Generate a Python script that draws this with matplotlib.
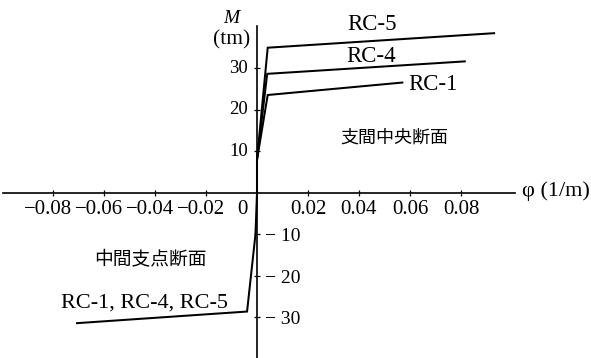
import matplotlib
matplotlib.use("Agg")
import matplotlib.pyplot as plt

# Moment–curvature relations (phi in 1/m, M in tm)
phi_rc1 = [0.0, 0.0, 0.0042, 0.057]
m_rc1 = [0.0, 8.0, 23.6, 26.6]
phi_rc4 = [0.0, 0.0, 0.0040, 0.0815]
m_rc4 = [0.0, 8.0, 28.7, 31.7]
phi_rc5 = [0.0, 0.0, 0.0042, 0.093]
m_rc5 = [0.0, 8.0, 35.0, 38.5]
phi_neg = [0.0, -0.0006, -0.0039, -0.0706]
m_neg = [0.0, -10.0, -28.6, -31.4]

xticks = [-0.08, -0.06, -0.04, -0.02, 0.02, 0.04, 0.06, 0.08]
yticks_pos = [10, 20, 30]
yticks_neg = [-10, -20, -30]

serif = ["Liberation Serif", "Noto Sans CJK JP"]
jp = ["Noto Sans CJK JP"]

fig = plt.figure(figsize=(5.91, 3.58), dpi=100)
ax = fig.add_axes([0, 0, 1, 1])
ax.set_xlim(-0.1008, 0.131)
ax.set_ylim(-39.8, 46.5)

lw = 1.45
for p, m in [(phi_rc1, m_rc1), (phi_rc4, m_rc4), (phi_rc5, m_rc5), (phi_neg, m_neg)]:
    ax.plot(p, m, color="black", lw=lw, solid_joinstyle="miter")

# axes through the origin
for s in ["top", "right"]:
    ax.spines[s].set_visible(False)
ax.spines["left"].set_position(("data", 0))
ax.spines["bottom"].set_position(("data", 0))
ax.spines["left"].set_bounds(-39.8, 40.2)
ax.spines["bottom"].set_bounds(-0.0996, 0.1011)
ax.spines["left"].set_linewidth(1.2)
ax.spines["bottom"].set_linewidth(1.2)
ax.set_xticks(xticks)
ax.set_yticks(yticks_pos + yticks_neg)
ax.tick_params(direction="inout", length=5, width=0.9, labelbottom=False, labelleft=False)

fs_tick = 15
for t in xticks:
    lab = f"{t:.2f}".replace("-", "−")
    shift = -0.002 if t < 0 else 0.0
    ax.text(t + shift, -3.9, lab, ha="center", va="center", fontsize=fs_tick, family=serif)
ax.text(-0.0035, -3.9, "0", ha="right", va="center", fontsize=fs_tick, family=serif)
for t in yticks_pos:
    ax.text(-0.0035, t, f"{t}", ha="right", va="center", fontsize=13.5, family=serif)
for t in yticks_neg:
    ax.text(0.0031, t - 0.6, f"{t}".replace("-", "− "), ha="left", va="center",
            fontsize=14, family=serif)

# axis titles
ax.text(-0.0102, 42.0, "M", ha="center", va="center", fontsize=14, style="italic", family=serif)
ax.text(-0.0098, 36.9, "(tm)", ha="center", va="center", fontsize=15.5, family=serif)
ax.text(0.1040, 0.4, "φ (1/m)", ha="left", va="center", fontsize=16, family=serif)

# series labels
fs_lab = 16.5
ax.text(0.0451, 40.6, "RC-5", ha="center", va="center", fontsize=fs_lab, family=serif)
ax.text(0.0447, 33.0, "RC-4", ha="center", va="center", fontsize=fs_lab, family=serif)
ax.text(0.0690, 26.1, "RC-1", ha="center", va="center", fontsize=fs_lab, family=serif)
ax.text(0.0537, 13.3, "支間中央断面", ha="center", va="center", fontsize=13, family=jp)
ax.text(-0.0420, -16.1, "中間支点断面", ha="center", va="center", fontsize=13.5, family=jp)
ax.text(-0.0443, -26.5, "RC-1, RC-4, RC-5", ha="center", va="center", fontsize=16, family=serif)

fig.savefig("out.png", dpi=100)
